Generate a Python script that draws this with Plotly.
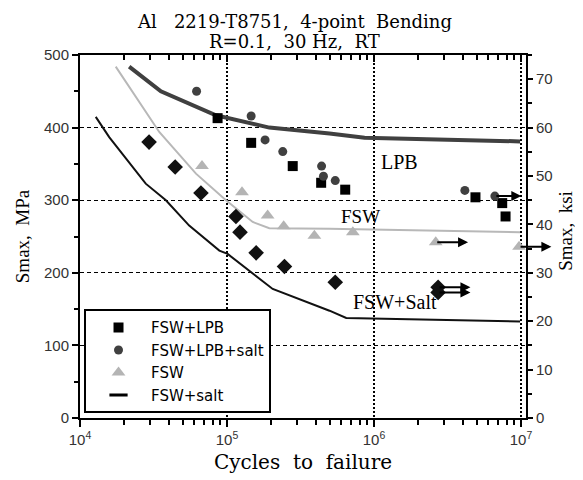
import numpy as np
import plotly.graph_objects as go

# ---------------- data ----------------
# FSW+LPB (squares)
lpb_N = [86300, 146000, 280000, 437000, 637000, 4.9e6, 7.45e6, 7.85e6]
lpb_S = [413, 379, 347, 324, 314.5, 304, 296, 277.6]
# FSW+LPB+salt (circles)
lpbs_N = [62100, 146000, 181600, 239500, 440000, 453000, 545000, 4.15e6, 6.64e6]
lpbs_S = [450, 416, 383, 367, 347, 333, 327, 313.5, 305.7]
# FSW (triangles)
fsw_N = [67600, 126500, 189000, 243000, 393000, 718000, 2.63e6, 9.7e6]
fsw_S = [347, 311, 279, 264, 251, 256, 242, 236]
# FSW+salt (diamonds)
fsws_N = [29500, 44400, 66500, 115000, 122600, 157800, 246000, 545000, 2.73e6, 2.73e6]
fsws_S = [380, 345.7, 310, 277.6, 256, 227.5, 208.6, 187, 180, 173]

# S-N trend curves
curve_lpb_N = [21600, 35500, 84100, 194000, 498000, 863000, 9.85e6]
curve_lpb_S = [484, 450, 417, 400, 392, 386, 381]
curve_fsw_N = [17500, 34600, 61500, 98400, 149600, 194000, 498000, 9.85e6]
curve_fsw_S = [484, 394, 336.6, 300, 270, 261.5, 260.6, 256]
curve_fsws_N = [12800, 15800, 28000, 38400, 55300, 88700, 101000, 204600, 498000, 647000, 9.85e6]
curve_fsws_S = [414.8, 387, 322.8, 300, 265, 230.6, 226, 177.7, 147.8, 137.7, 133]

# run-outs (arrows)
runout_N = [6.64e6, 2.63e6, 9.7e6, 2.73e6, 2.73e6]
runout_S = [305.7, 242, 236, 180, 173]
arrow_len = [0.18, 0.22, 0.22, 0.22, 0.22]  # decades

# curve labels
label_text = ["LPB", "FSW", "FSW+Salt"]
label_N = [1.5e6, 8.1e5, 1.38e6]
label_S = [353, 278, 160]
label_size = [20, 19, 20]

x_tickvals = [1e4, 1e5, 1e6, 1e7]
x_ticktext = ["10<sup>4</sup>", "10<sup>5</sup>", "10<sup>6</sup>", "10<sup>7</sup>"]
x_minor = [m * 10**e for e in range(4, 7) for m in range(2, 10)]

XR = [4.0, 7.034]
YR = [0, 500]
Y2R = [0, 75]

nb = "\u00a0"
title_lines = [f"Al{nb*3}2219-T8751,{nb*2}4-point{nb*2}Bending",
               f"R=0.1,{nb*2}30 Hz,{nb*2}RT"]
title_shift = [21, 1]

fig = go.Figure()

fig.add_trace(go.Scatter(x=curve_lpb_N, y=curve_lpb_S, mode="lines",
                         line=dict(color="#404040", width=4), showlegend=False))
fig.add_trace(go.Scatter(x=curve_fsw_N, y=curve_fsw_S, mode="lines",
                         line=dict(color="#b8b8b8", width=2), showlegend=False))
fig.add_trace(go.Scatter(x=curve_fsws_N, y=curve_fsws_S, mode="lines",
                         line=dict(color="#111111", width=2), showlegend=False))

fig.add_trace(go.Scatter(x=lpb_N, y=lpb_S, mode="markers", name="FSW+LPB",
                         marker=dict(symbol="square", size=10, color="#000000")))
fig.add_trace(go.Scatter(x=lpbs_N, y=lpbs_S, mode="markers", name="FSW+LPB+salt",
                         marker=dict(symbol="circle", size=9, color="#404040")))
fig.add_trace(go.Scatter(x=fsw_N, y=fsw_S, mode="markers", name="FSW",
                         marker=dict(symbol="triangle-up", size=12, color="#b4b4b4")))
fig.add_trace(go.Scatter(x=fsws_N, y=fsws_S, mode="markers", name="FSW+salt diamonds",
                         marker=dict(symbol="diamond", size=12, color="#111111"),
                         showlegend=False))
# legend entry for FSW+salt (dash symbol)
fig.add_trace(go.Scatter(x=[None], y=[None], mode="markers", name="FSW+salt",
                         marker=dict(symbol="line-ew-open", size=13, color="#000000",
                                     line=dict(width=3, color="#000000"))))

# helper traces for top x axis and right y axis
fig.add_trace(go.Scatter(x=[], y=[], xaxis="x2", yaxis="y", showlegend=False))
fig.add_trace(go.Scatter(x=[], y=[], xaxis="x", yaxis="y2", showlegend=False))

annotations = []
for n, s, L in zip(runout_N, runout_S, arrow_len):
    annotations.append(dict(x=np.log10(n) + L, y=s, ax=np.log10(n), ay=s,
                            xref="x", yref="y", axref="x", ayref="y",
                            text="", showarrow=True, arrowhead=2, arrowsize=1,
                            arrowwidth=2, arrowcolor="#000000"))
for t, n, s, fs in zip(label_text, label_N, label_S, label_size):
    annotations.append(dict(x=np.log10(n), y=s, xref="x", yref="y", text=t,
                            showarrow=False,
                            font=dict(family="Liberation Serif", size=fs, color="#000000")))
# chart title (two lines)
for t, sh in zip(title_lines, title_shift):
    annotations.append(dict(x=0.48, y=1, xref="paper", yref="paper", xanchor="center",
                            yanchor="bottom", yshift=sh, text=t, showarrow=False,
                            font=dict(family="DejaVu Serif", size=18, color="#000000")))
# right axis title
annotations.append(dict(x=1.087, y=0.515, xref="paper", yref="paper", xanchor="center",
                        yanchor="middle", textangle=-90, text=f"Smax,{nb*2}ksi",
                        showarrow=False,
                        font=dict(family="Liberation Serif", size=19, color="#000000")))

tickfont = dict(family="Liberation Sans", size=15, color="#333333")

# the page body adds an 8px offset, so the figure is 8px smaller and margins shifted
fig.update_layout(
    width=575, height=472,
    margin=dict(l=72, r=57, t=47, b=62),
    paper_bgcolor="white", plot_bgcolor="white",
    xaxis=dict(type="log", range=XR, tickvals=x_tickvals, ticktext=x_ticktext,
               automargin=False,
               tickfont=tickfont, ticks="outside", ticklen=7, tickwidth=2, tickcolor="#000",
               minor=dict(tickvals=x_minor, ticks="outside", ticklen=5, tickwidth=1.5,
                          tickcolor="#000", showgrid=False),
               showline=True, linewidth=2, linecolor="#000", zeroline=False,
               showgrid=True, gridcolor="#000", gridwidth=2, griddash="2px,2px",
               title=dict(text=f"Cycles{nb*2}to{nb*2}failure", standoff=8,
                          font=dict(family="DejaVu Serif", size=20, color="#000"))),
    xaxis2=dict(type="log", range=XR, overlaying="x", side="top", automargin=False,
                tickvals=x_tickvals, showticklabels=False, ticks="inside", ticklen=7,
                tickwidth=2, tickcolor="#000",
                minor=dict(tickvals=x_minor, ticks="inside", ticklen=5, tickwidth=1.5,
                           tickcolor="#000"),
                showline=True, linewidth=2, linecolor="#000", showgrid=False, zeroline=False),
    yaxis=dict(range=YR, tickvals=[0, 100, 200, 300, 400, 500], tickfont=tickfont,
               automargin=False,
               ticks="outside", ticklen=6, tickwidth=2, tickcolor="#000",
               minor=dict(dtick=50, ticks="outside", ticklen=4, tickwidth=1.5,
                          tickcolor="#000", showgrid=False),
               showline=True, linewidth=2, linecolor="#000", zeroline=False,
               showgrid=True, gridcolor="#000", gridwidth=1, griddash="4px,3px",
               title=dict(text=f"Smax,{nb*2}MPa", standoff=9,
                          font=dict(family="Liberation Serif", size=19, color="#000"))),
    yaxis2=dict(range=Y2R, overlaying="y", side="right", dtick=10, tick0=0,
                automargin=False,
                tickfont=tickfont, ticks="outside", ticklen=5, tickwidth=2, tickcolor="#000",
                minor=dict(dtick=5, ticks="outside", ticklen=4, tickwidth=1.5,
                           tickcolor="#000", showgrid=False),
                showline=True, linewidth=2, linecolor="#000", showgrid=False, zeroline=False),
    legend=dict(x=0.009, y=0.013, xanchor="left", yanchor="bottom",
                bgcolor="white", bordercolor="#000", borderwidth=2,
                font=dict(family="DejaVu Sans", size=15, color="#000"),
                itemwidth=55, tracegroupgap=0),
    annotations=annotations,
    showlegend=True,
)

fig.write_html("out.html")
